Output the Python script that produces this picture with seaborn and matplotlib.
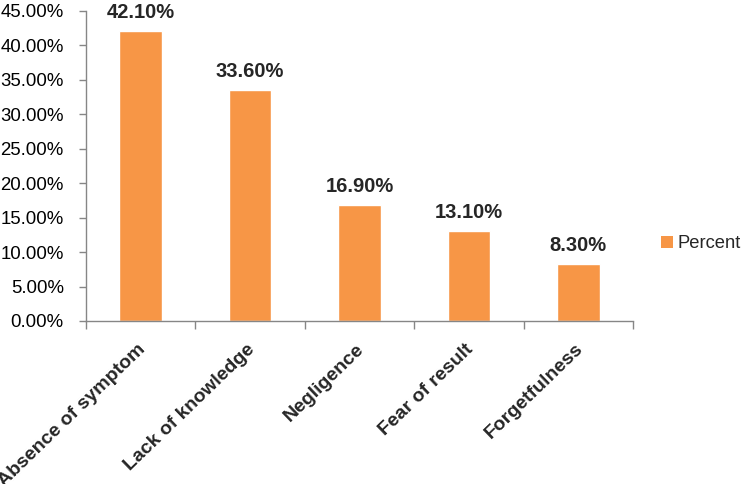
import matplotlib
matplotlib.use("Agg")
import matplotlib.pyplot as plt
import matplotlib.transforms as mtransforms
import numpy as np
import pandas as pd
import seaborn as sns
from matplotlib.patches import Patch
from matplotlib.ticker import FuncFormatter

categories = ["Absence of symptom", "Lack of knowledge", "Negligence", "Fear of result", "Forgetfulness"]
percent = [42.10, 33.60, 16.90, 13.10, 8.30]
y_ticks = [0, 5, 10, 15, 20, 25, 30, 35, 40, 45]

sns.set_theme(style="white")
plt.rcParams["font.family"] = ["Liberation Sans", "DejaVu Sans"]

bar_color = "#F79646"
axis_color = "#868686"

df = pd.DataFrame({"reason": categories, "percent": percent})

fig = plt.figure(figsize=(7.44, 4.84), dpi=100)
ax = fig.add_axes([0.1156, 0.3368, 0.7354, 0.6405])
sns.barplot(data=df, x="reason", y="percent", color=bar_color, width=0.39,
            saturation=1, ax=ax)

ax.set_ylim(0, 45)
ax.set_xlim(-0.5, len(categories) - 0.5)
ax.set_yticks(y_ticks)
ax.yaxis.set_major_formatter(FuncFormatter(lambda v, _: f"{v:.2f}%"))
ax.tick_params(axis="y", labelsize=13.4, colors="black", length=5, width=1,
               color=axis_color, direction="out", left=True, pad=11)

ax.set_xticks(np.arange(len(categories)))
ax.set_xticklabels(categories, rotation=44, ha="right", va="top",
                   rotation_mode="anchor", fontsize=14, fontweight="bold")
ax.set_xticks(np.arange(len(categories) + 1) - 0.5, minor=True)
ax.tick_params(axis="x", which="major", length=0, pad=14)
ax.tick_params(axis="x", which="minor", length=6, width=1, color=axis_color,
               direction="out", bottom=True)
shift = mtransforms.ScaledTranslation(-4 / 100, 0, fig.dpi_scale_trans)
for lab in ax.get_xticklabels():
    lab.set_transform(lab.get_transform() + shift)

for s in ["top", "right"]:
    ax.spines[s].set_visible(False)
for s in ["left", "bottom"]:
    ax.spines[s].set_color(axis_color)
    ax.spines[s].set_linewidth(1)

ax.set_xlabel("")
ax.set_ylabel("")

for i, v in enumerate(percent):
    ax.text(i, v + 1.3, f"{v:.2f}%", ha="center", va="bottom",
            fontsize=14.5, fontweight="bold")

handle = Patch(facecolor=bar_color, edgecolor="none")
fig.legend([handle], ["Percent"], loc="center left", bbox_to_anchor=(0.879, 0.496),
           frameon=False, fontsize=13.2, handlelength=0.65, handleheight=0.65,
           handletextpad=0.25, borderaxespad=0)

fig.savefig("out.png", dpi=100)
